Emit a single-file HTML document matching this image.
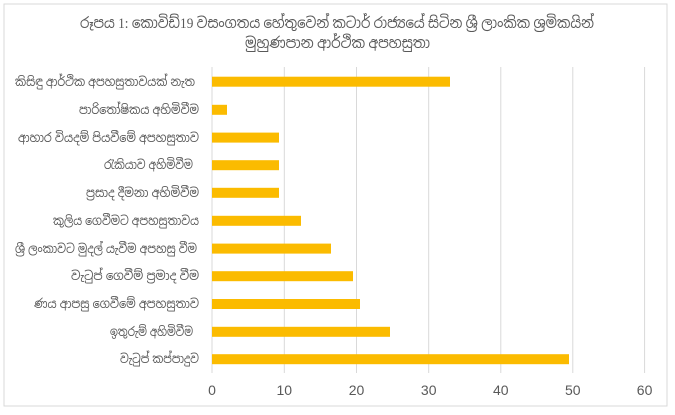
<!DOCTYPE html>
<html>
<head>
<meta charset="utf-8">
<style>
html,body{margin:0;padding:0;background:#fff;}
svg{display:block;}
.t{font-family:"Liberation Serif","Noto Sans Sinhala","Iskoola Pota","DejaVu Sans",serif;font-size:15px;fill:#595959;}
.c{font-family:"Liberation Sans","Noto Sans Sinhala","Iskoola Pota","DejaVu Sans",sans-serif;font-size:12.5px;fill:#595959;}
.n{font-family:"Liberation Sans",sans-serif;font-size:14px;fill:#595959;}
</style>
</head>
<body>
<svg width="675" height="415" viewBox="0 0 675 415" xmlns="http://www.w3.org/2000/svg">
<rect x="0" y="0" width="675" height="415" fill="#fff"/>
<rect x="4" y="4" width="663" height="402" fill="#fff" stroke="#d9d9d9" stroke-width="1"/>
<text class="t" x="80" y="28" textLength="514" lengthAdjust="spacingAndGlyphs">රූපය 1: කොවිඩ්19 වසංගතය හේතුවෙන් කටාර් රාජ්‍යයේ සිටින ශ්‍රී ලාංකික ශ්‍රමිකයින්</text>
<text class="t" x="245" y="48" textLength="185" lengthAdjust="spacingAndGlyphs">මුහුණපාන ආර්ථික අපහසුතා</text>
<g stroke="#d9d9d9" stroke-width="1">
<line x1="212" y1="67" x2="212" y2="373"/>
<line x1="284.3" y1="67" x2="284.3" y2="373"/>
<line x1="356.5" y1="67" x2="356.5" y2="373"/>
<line x1="428.7" y1="67" x2="428.7" y2="373"/>
<line x1="500.8" y1="67" x2="500.8" y2="373"/>
<line x1="572.8" y1="67" x2="572.8" y2="373"/>
<line x1="644.6" y1="67" x2="644.6" y2="373"/>
</g>
<g fill="#fbbb00">
<rect x="212" y="76.7" width="238" height="10"/>
<rect x="212" y="104.8" width="15" height="10"/>
<rect x="212" y="132.6" width="67" height="10"/>
<rect x="212" y="160.2" width="67" height="10"/>
<rect x="212" y="187.8" width="67" height="10"/>
<rect x="212" y="215.8" width="89" height="10"/>
<rect x="212" y="243.6" width="119" height="10"/>
<rect x="212" y="271.2" width="141" height="10"/>
<rect x="212" y="299" width="148" height="10"/>
<rect x="212" y="326.8" width="178" height="10"/>
<rect x="212" y="354.2" width="357" height="10"/>
</g>
<g class="c">
<text x="15" y="86" textLength="180" lengthAdjust="spacingAndGlyphs">කිසිඳු ආර්ථික අපහසුතාවයක් නැත</text>
<text x="79" y="114" textLength="120" lengthAdjust="spacingAndGlyphs">පාරිතෝෂිකය අහිමිවීම</text>
<text x="18" y="142" textLength="181" lengthAdjust="spacingAndGlyphs">ආහාර  වියදම් පියවීමේ අපහසුතාව</text>
<text x="104" y="169" textLength="89" lengthAdjust="spacingAndGlyphs">රැකියාව අහිමිවීම</text>
<text x="86" y="197" textLength="113" lengthAdjust="spacingAndGlyphs">ප්‍රසාද දීමනා අහිමිවීම</text>
<text x="53" y="225" textLength="146" lengthAdjust="spacingAndGlyphs">කුලිය ගෙවීමට අපහසුතාවය</text>
<text x="15" y="253" textLength="182" lengthAdjust="spacingAndGlyphs">ශ්‍රී ලංකාවට මුදල් යැවීම අපහසු වීම</text>
<text x="71" y="280" textLength="128" lengthAdjust="spacingAndGlyphs">වැටුප් ගෙවීම් ප්‍රමාද වීම</text>
<text x="34" y="308" textLength="165" lengthAdjust="spacingAndGlyphs">ණය ආපසු ගෙවීමේ අපහසුතාව</text>
<text x="110" y="336" textLength="83" lengthAdjust="spacingAndGlyphs">ඉතුරුම් අහිමිවීම</text>
<text x="120" y="363" textLength="79" lengthAdjust="spacingAndGlyphs">වැටුප් කප්පාදුව</text>
</g>
<g class="n" text-anchor="middle">
<text x="212" y="395">0</text>
<text x="284.3" y="395">10</text>
<text x="356.5" y="395">20</text>
<text x="428.7" y="395">30</text>
<text x="500.8" y="395">40</text>
<text x="572.8" y="395">50</text>
<text x="644.6" y="395">60</text>
</g>
</svg>
</body>
</html>
